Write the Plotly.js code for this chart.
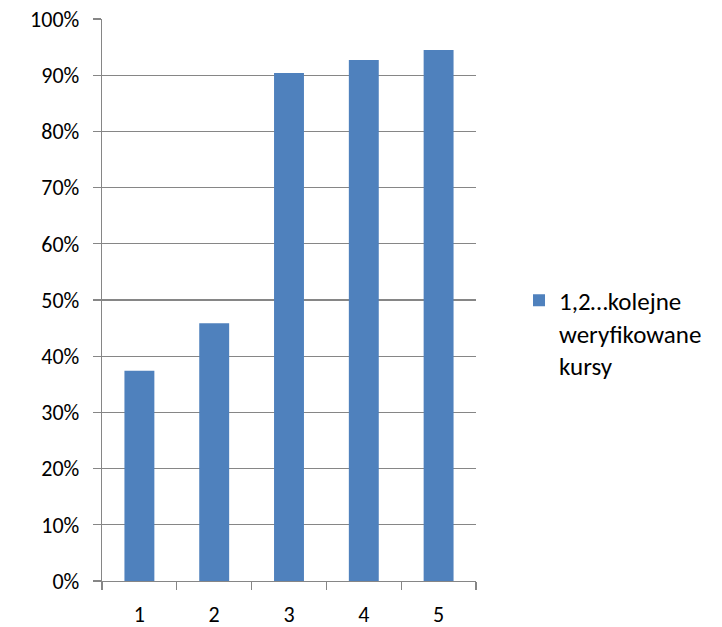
<!DOCTYPE html>
<html>
<head>
<meta charset="utf-8">
<script src="https://cdn.plot.ly/plotly-3.0.1.min.js"></script>
<style>html,body{margin:0;padding:0;background:#fff;}#chart{width:722px;height:627px;}</style>
</head>
<body>
<div id="chart"></div>
<script>
const categories = ['1', '2', '3', '4', '5'];
const values = [0.374, 0.4585, 0.904, 0.927, 0.945];
const seriesName = '1,2…kolejne<br>weryfikowane<br>kursy';

const FONT = 'Carlito, Lato, "Liberation Sans", sans-serif';
const GRID = '#868686';

const data = [{
  type: 'bar',
  x: categories,
  y: values,
  name: seriesName,
  marker: {color: '#4F81BD'},
  showlegend: true,
  hoverinfo: 'x+y'
}];

const layout = {
  width: 722,
  height: 627,
  margin: {l: 101.7, r: 246, t: 19, b: 46, pad: 0},
  paper_bgcolor: '#ffffff',
  plot_bgcolor: '#ffffff',
  font: {family: FONT, size: 22, color: '#000000'},
  bargap: 0.6,
  showlegend: true,
  legend: {
    x: 1.115, xanchor: 'left',
    y: 0.54, yanchor: 'top',
    valign: 'top',
    font: {family: FONT, size: 25, color: '#000000'},
    bgcolor: 'rgba(0,0,0,0)'
  },
  xaxis: {
    type: 'category',
    range: [-0.5, 4.5],
    showline: true, linecolor: GRID, linewidth: 1.3,
    ticks: 'outside', ticklen: 8, tickcolor: GRID, tickwidth: 1.3,
    tickson: 'boundaries',
    showgrid: false,
    zeroline: false,
    tickfont: {family: FONT, size: 22, color: '#000000'},
    ticklabelstandoff: 13
  },
  yaxis: {
    range: [0, 1],
    dtick: 0.1,
    tick0: 0,
    tickformat: '.0%',
    showline: true, linecolor: GRID, linewidth: 1.3,
    ticks: 'outside', ticklen: 8, tickcolor: GRID, tickwidth: 1.3,
    showgrid: true, gridcolor: GRID, gridwidth: 1.3,
    zeroline: false,
    tickfont: {family: FONT, size: 22, color: '#000000'},
    ticklabelstandoff: 9
  }
};

Plotly.newPlot('chart', data, layout, {displayModeBar: false, staticPlot: true});
</script>
</body>
</html>
